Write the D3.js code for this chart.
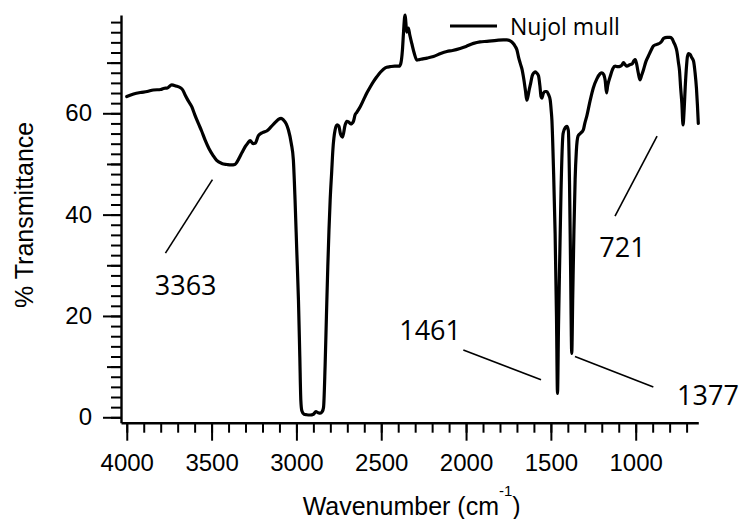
<!DOCTYPE html>
<html>
<head>
<meta charset="utf-8">
<script src="https://cdn.jsdelivr.net/npm/d3@7"></script>
<style>
  html, body { margin: 0; padding: 0; background: #fff; }
  svg { display: block; }
  .tick-label { font-family: "Liberation Sans", Arial, sans-serif; font-size: 24px; fill: #000; }
  .axis-title { font-family: "Liberation Sans", Arial, sans-serif; font-size: 25px; fill: #000; }
  .note { font-family: "Open Sans", "Noto Sans", sans-serif; font-size: 27px; fill: #000; }
  .legend-text { font-family: "Open Sans", "Noto Sans", sans-serif; font-size: 23px; fill: #000; }
</style>
</head>
<body>
<svg id="chart" width="743" height="519"></svg>
<script>
// IR spectrum of a Nujol mull: wavenumber (cm^-1) and % transmittance
const wavenumber = [
  4000, 3960, 3920, 3880, 3843, 3800, 3784, 3760, 3735, 3710, 3686, 3670, 3656, 3640, 3617, 3600,
  3578, 3560, 3538, 3515, 3490, 3470, 3440, 3410, 3385, 3363, 3340, 3320, 3300, 3285, 3273, 3255,
  3243, 3224, 3200, 3175, 3150, 3125, 3106, 3090, 3077, 3060, 3047, 3030, 3018, 3008, 2998, 2988,
  2980, 2974, 2968, 2955, 2940, 2919, 2900, 2885, 2872, 2860, 2848, 2840, 2831, 2823, 2815, 2808,
  2801, 2792, 2785, 2772, 2760, 2750, 2740, 2728, 2713, 2703, 2693, 2680, 2673, 2664, 2654, 2644,
  2624, 2605, 2585, 2565, 2545, 2526, 2505, 2487, 2468, 2448, 2420, 2395, 2385, 2375, 2369, 2362,
  2359, 2355, 2350, 2345, 2340, 2332, 2320, 2305, 2290, 2275, 2261, 2230, 2192, 2150, 2113, 2080,
  2035, 2000, 1956, 1917, 1877, 1820, 1780, 1760, 1740, 1725, 1710, 1700, 1690, 1680, 1671, 1660,
  1650, 1642, 1636, 1628, 1620, 1610, 1600, 1593, 1585, 1573, 1565, 1558, 1553, 1545, 1535, 1524,
  1515, 1504, 1498, 1494, 1485, 1475, 1467, 1461, 1455, 1448, 1440, 1428, 1415, 1406, 1397, 1390,
  1384, 1377, 1371, 1364, 1357, 1350, 1340, 1327, 1315, 1308, 1300, 1288, 1268, 1250, 1229, 1210,
  1199, 1188, 1180, 1172, 1165, 1150, 1135, 1121, 1105, 1091, 1080, 1072, 1060, 1052, 1035, 1022,
  1010, 1003, 995, 985, 975, 965, 954, 940, 925, 910, 895, 875, 856, 845, 836, 815,
  797, 785, 777, 765, 757, 748, 742, 735, 728, 721, 714, 708, 700, 695, 688, 679,
  670, 659, 650, 642, 636, 631
];
const transmittance = [
  63.3, 63.8, 64.1, 64.3, 64.6, 64.7, 64.9, 65.0, 65.6, 65.4, 65.1, 64.6, 63.6, 62.6, 61.3, 59.8,
  58.0, 56.6, 54.7, 53.0, 51.6, 50.7, 50.1, 49.9, 49.8, 49.9, 51.0, 52.3, 53.5, 54.2, 54.6, 54.0,
  54.1, 55.6, 56.2, 56.5, 57.3, 58.2, 58.8, 59.0, 58.7, 57.9, 56.7, 54.0, 50.8, 42.9, 33.0, 23.2,
  12.0, 3.4, 1.3, 0.6, 0.5, 0.45, 0.6, 1.1, 0.9, 0.8, 1.1, 2.0, 10.0, 20.0, 29.7, 37.0,
  42.9, 48.5, 52.8, 56.7, 57.7, 57.5, 55.9, 55.3, 57.7, 58.4, 58.3, 57.9, 58.0, 58.4, 59.7, 60.2,
  61.3, 62.6, 64.0, 65.2, 66.3, 67.2, 68.1, 68.7, 69.1, 69.2, 69.3, 69.3, 69.8, 72.5, 75.8, 79.0,
  79.4, 78.0, 76.0, 76.6, 76.8, 75.5, 73.8, 71.8, 70.5, 70.6, 70.7, 70.9, 71.2, 71.8, 72.2, 72.4,
  72.8, 73.2, 73.8, 74.1, 74.2, 74.4, 74.5, 74.5, 74.3, 73.9, 73.2, 72.5, 71.0, 69.8, 68.8, 66.8,
  64.5, 62.6, 63.2, 64.6, 65.8, 67.4, 68.0, 68.2, 68.0, 67.4, 65.5, 63.3, 63.0, 63.9, 64.3, 64.3,
  63.8, 62.6, 60.5, 58.7, 49.5, 36.3, 20.0, 4.7, 18.0, 31.0, 45.0, 56.0, 57.2, 57.4, 56.6, 46.0,
  30.0, 12.6, 24.0, 37.0, 47.0, 52.5, 55.5, 56.0, 56.4, 56.8, 58.0, 59.5, 62.6, 65.0, 66.8, 67.8,
  68.0, 67.6, 66.5, 64.0, 65.5, 67.3, 68.8, 69.3, 69.2, 69.3, 69.6, 70.0, 69.5, 69.3, 69.6, 69.7,
  70.4, 70.6, 69.8, 68.0, 66.6, 67.5, 68.6, 70.2, 71.3, 72.4, 73.3, 73.6, 73.9, 74.3, 74.8, 75.0,
  75.0, 74.7, 74.1, 73.2, 72.2, 70.0, 68.5, 65.0, 62.0, 57.7, 61.0, 65.2, 69.5, 71.2, 71.8, 71.6,
  71.0, 70.3, 68.0, 65.0, 61.5, 58.0
];
const seriesName = "Nujol mull";

// Axis ticks
const xMajorTicks = [4000, 3500, 3000, 2500, 2000, 1500, 1000];
const xMinorTicks = d3.range(4000, 650, -100);
const yMajorTicks = [0, 20, 40, 60];
const yMidTicks = [10, 30, 50, 70];
const yMinorTicks = d3.range(0, 79, 2);

// Labelled bands (cm^-1)
const peakLabels = ["3363", "1461", "1377", "721"];

// Plot frame
const plot = { left: 121, right: 698.3, top: 15, bottom: 422.7 };

const svg = d3.select("#chart");

const x = d3.scaleLinear().domain([4034, 631]).range([plot.left, plot.right]);
const y = d3.scaleLinear().domain([-1.07, 79.4]).range([plot.bottom, plot.top]);

const data = wavenumber.map((w, i) => ({ w, t: transmittance[i] }));

// --- axes ---------------------------------------------------------------
function styleAxis(g) {
  g.attr("font-size", null).attr("font-family", null);
  g.selectAll("line").attr("stroke", "#000").attr("stroke-width", 2);
  g.selectAll("path.domain").attr("stroke", "#000").attr("stroke-width", 2.4);
  g.selectAll(".tick text").attr("class", "tick-label");
}

const xAxisMinor = d3.axisBottom(x).tickValues(xMinorTicks).tickSize(10).tickSizeOuter(0).tickFormat("");
const xAxisMajor = d3.axisBottom(x).tickValues(xMajorTicks).tickSize(18).tickSizeOuter(0)
  .tickPadding(13).tickFormat(d3.format("d"));

svg.append("g").attr("transform", `translate(0,${plot.bottom})`).call(xAxisMinor).call(styleAxis)
  .call(g => g.select(".domain").remove());
svg.append("g").attr("transform", `translate(0,${plot.bottom})`).call(xAxisMajor).call(styleAxis);

const yAxisMinor = d3.axisLeft(y).tickValues(yMinorTicks).tickSize(10).tickSizeOuter(0).tickFormat("");
const yAxisMid = d3.axisLeft(y).tickValues(yMidTicks).tickSize(14).tickSizeOuter(0).tickFormat("");
const yAxisMajor = d3.axisLeft(y).tickValues(yMajorTicks).tickSize(18).tickSizeOuter(0)
  .tickPadding(11).tickFormat(d3.format("d"));

svg.append("g").attr("transform", `translate(${plot.left},0)`).call(yAxisMinor).call(styleAxis)
  .call(g => g.select(".domain").remove());
svg.append("g").attr("transform", `translate(${plot.left},0)`).call(yAxisMid).call(styleAxis)
  .call(g => g.select(".domain").remove());
svg.append("g").attr("transform", `translate(${plot.left},0)`).call(yAxisMajor).call(styleAxis);

// Axis titles
svg.append("text")
  .attr("class", "axis-title")
  .attr("transform", `translate(33,${(plot.top + plot.bottom) / 2 - 4}) rotate(-90)`)
  .attr("text-anchor", "middle")
  .text("% Transmittance");

const xTitle = svg.append("text")
  .attr("class", "axis-title")
  .attr("x", (plot.left + plot.right) / 2 + 2)
  .attr("y", 515)
  .attr("text-anchor", "middle");
xTitle.append("tspan").text("Wavenumber (cm");
xTitle.append("tspan").attr("dy", -19).attr("font-size", 15).text("-1");
xTitle.append("tspan").attr("dy", 19).text(")");

// --- spectrum -------------------------------------------------------------
const line = d3.line()
  .x(d => x(d.w))
  .y(d => y(d.t))
  .curve(d3.curveMonotoneX);

svg.append("path")
  .datum(data)
  .attr("fill", "none")
  .attr("stroke", "#000")
  .attr("stroke-width", 3.2)
  .attr("stroke-linejoin", "round")
  .attr("stroke-linecap", "round")
  .attr("d", line);

// --- band callouts (leader line + label), placed in data coordinates ---------
const callouts = [
  { from: [3772, 32.4], to: [3495, 46.9], at: [3653, 24.1] },
  { from: [2016, 13.3], to: [1558, 7.4], at: [2212, 15.3] },
  { from: [1358, 12.0], to: [896, 6.0], at: [574, 2.4] },
  { from: [1122, 39.7], to: [874, 55.5], at: [1078, 31.6] }
];

callouts.forEach((c, i) => {
  svg.append("line")
    .attr("x1", x(c.from[0])).attr("y1", y(c.from[1]))
    .attr("x2", x(c.to[0])).attr("y2", y(c.to[1]))
    .attr("stroke", "#000").attr("stroke-width", 1.6);
  svg.append("text")
    .attr("class", "note")
    .attr("x", x(c.at[0])).attr("y", y(c.at[1]))
    .attr("text-anchor", "middle")
    .text(peakLabels[i]);
});

// --- legend -------------------------------------------------------------
const legend = svg.append("g").attr("transform", "translate(450,26)");
legend.append("line")
  .attr("x1", 0).attr("x2", 47).attr("y1", 0).attr("y2", 0)
  .attr("stroke", "#000").attr("stroke-width", 3.2);
legend.append("text")
  .attr("class", "legend-text")
  .attr("x", 60).attr("y", 9)
  .text(seriesName);
</script>
</body>
</html>
